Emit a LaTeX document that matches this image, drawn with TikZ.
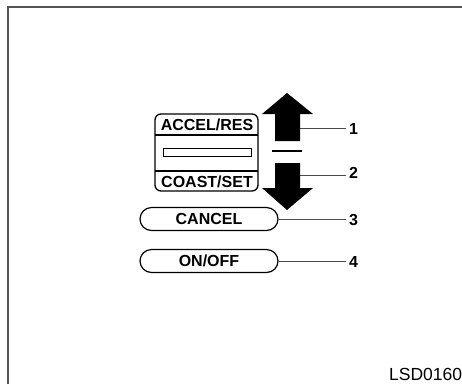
\documentclass[tikz,border=0pt]{standalone}
\usepackage{fontspec}
\setsansfont{Liberation Sans}
\usetikzlibrary{shapes.misc}
\definecolor{ink}{HTML}{000000}
\definecolor{frame}{HTML}{555555}
\definecolor{lead}{HTML}{4A4A4A}

\begin{document}
\begin{tikzpicture}[x=1pt,y=-1pt,font=\sffamily\bfseries,text=ink,
    keytext/.style={font=\sffamily\bfseries\fontsize{16}{17}\selectfont,
      text height=11pt,text depth=0pt,inner sep=0pt},
    pill/.style={keytext,draw=ink,line width=1.2pt,rounded rectangle,
      minimum width=138pt,minimum height=23pt},
    num/.style={font=\sffamily\bfseries\fontsize{16}{17}\selectfont,
      text height=11pt,text depth=0pt,inner sep=0pt,anchor=west},
    leader/.style={lead,line width=1pt}]
  \useasboundingbox (0,0) rectangle (462,384);

  % frame, open to the right and below
  \draw[frame,line width=2pt] (8,384) -- (8,7) -- (462,7);

  % set / resume switch
  \draw[ink,line width=1.3pt,rounded corners=6pt]
    (155,114) rectangle (258,191);
  \draw[ink,line width=1.3pt] (155,135) -- (258,135);
  \draw[ink,line width=1.3pt] (155,171) -- (258,171);
  \draw[ink,line width=1pt] (163,148) rectangle (251,156);
  \node[keytext] (accel) at (207,125) {ACCEL/RES};
  \node[keytext] (coast) at (207,182) {COAST/SET};

  % up and down arrows
  \fill[ink] (287,93) -- (313,114) -- (300,114) -- (300,141)
    -- (275,141) -- (275,114) -- (262,114) -- cycle;
  \fill[ink] (275,163) -- (300,163) -- (300,188) -- (313,188)
    -- (287,210) -- (262,188) -- (275,188) -- cycle;
  \draw[ink,line width=1.3pt] (272,151) -- (302,151);
  \coordinate (up) at (300,128);
  \coordinate (down) at (300,175);

  % buttons
  \node[pill] (cancel) at (209,219) {CANCEL};
  \node[pill] (onoff) at (209,261) {ON/OFF};

  % callouts
  \node[num] (n1) at (349,128.5) {1};
  \node[num] (n2) at (349,172.5) {2};
  \node[num] (n3) at (349,220) {3};
  \node[num] (n4) at (349,262) {4};
  \draw[leader] (up) -- ([xshift=-3pt]n1.west |- up);
  \draw[leader] (down) -- ([xshift=-3pt]n2.west |- down);
  \draw[leader] (cancel.east) -- ([xshift=-3pt]n3.west |- cancel.east);
  \draw[leader] (onoff.east) -- ([xshift=-3pt]n4.west |- onoff.east);

  \node[anchor=west,inner sep=0pt,text height=11pt,text depth=0pt,
    font=\sffamily\fontsize{17.5}{18}\selectfont] (code) at (389,374.5) {LSD0160};
\end{tikzpicture}
\end{document}
